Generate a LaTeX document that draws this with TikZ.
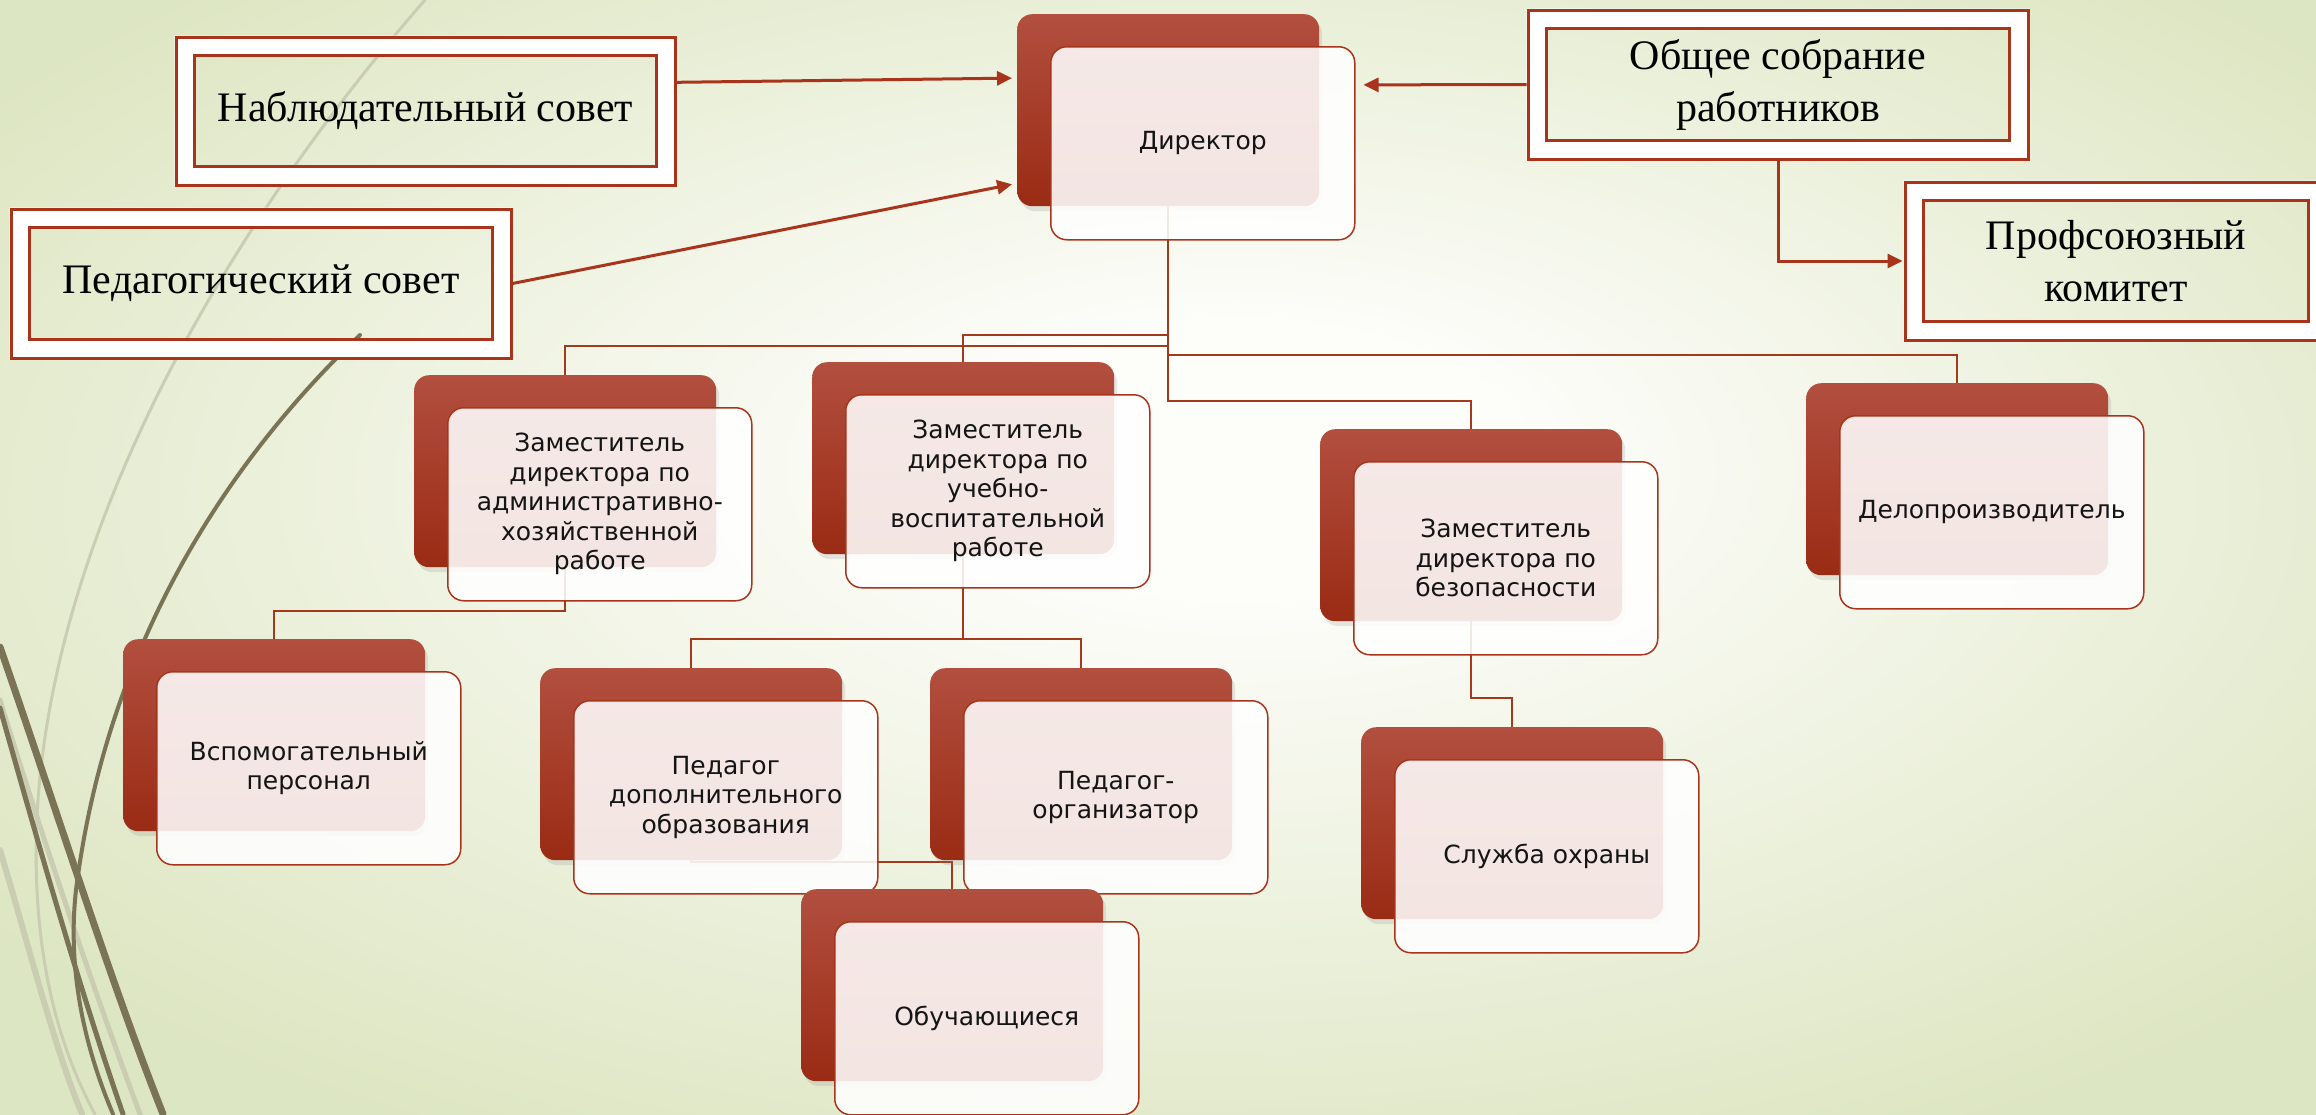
\documentclass[tikz,border=0pt]{standalone}
\usepackage{fontspec}
\setmainfont{Liberation Serif}
\newfontfamily\boxfont{DejaVu Sans}
\usetikzlibrary{arrows.meta,calc,shadows}
\definecolor{bgin}{HTML}{FDFDFA}
\definecolor{bgout}{HTML}{DDE6C2}
\definecolor{darktop}{HTML}{B24F3F}
\definecolor{darkmid}{HTML}{AD4433}
\definecolor{darkbot}{HTML}{9A2B14}
\definecolor{brd}{HTML}{A8351B}
\definecolor{conncol}{HTML}{A33A1E}
\definecolor{curvedark}{HTML}{7A7356}
\definecolor{curvelight}{HTML}{CACDB2}
\pgfdeclarelayer{bglayer}
\pgfdeclarelayer{connlayer}
\pgfsetlayers{bglayer,connlayer,main}
\pgfdeclareradialshading{bgshade}{\pgfpoint{2bp}{5bp}}{color(0bp)=(bgin); color(6bp)=(bgin); color(32bp)=(bgout); color(50bp)=(bgout)}
\tikzset{
  darkbox/.style={rectangle, rounded corners=15pt, minimum width=302pt, minimum height=192pt,
    inner sep=0pt, anchor=north west, top color=darktop, middle color=darkmid, bottom color=darkbot,
    draw=none, drop shadow={opacity=0.18, shadow xshift=3pt, shadow yshift=-5pt}},
  lightbox/.style={rectangle, rounded corners=16pt, minimum width=304pt, minimum height=193pt,
    inner sep=0pt, fill=white, fill opacity=0.88, draw=brd, line width=1.5pt},
  boxtext/.style={align=center, inner sep=0pt, text=black!92, font=\boxfont\fontsize{25}{29.5}\selectfont},
  outerframe/.style={rectangle, inner sep=0pt, draw=brd, line width=3pt},
  innerframe/.style={rectangle, inner sep=0pt, draw=brd, line width=3pt},
  sertext/.style={align=center, inner sep=0pt, text=black, font=\fontsize{42}{52}\selectfont},
  connector/.style={draw=conncol, line width=2pt},
  bigarrow/.style={draw=brd, line width=3pt, -{Triangle[length=15pt,width=14pt]}},
  curvedk/.style={draw=curvedark, line cap=round},
  curvelt/.style={draw=curvelight, line cap=round},
}
\newcommand{\orgunit}[4]{%
  \node[darkbox] (#1d) at (#2,#3) {};
  \node[lightbox, anchor=north west] (#1) at ($(#1d.north west)+(33,32)$) {};
  \node[boxtext] (#1t) at (#1.center) {#4};
}
\newcommand{\serbox}[6]{%
  \node[outerframe, minimum width=#4pt, minimum height=#5pt] (#1) at (#2,#3) {};
  \node[innerframe, minimum width=#4pt-37pt, minimum height=#5pt-37pt] (#1i) at (#2,#3) {};
  \node[sertext] (#1t) at (#2,#3) {#6};
  \begin{pgfonlayer}{bglayer}
    \fill[white, even odd rule] (#1.north west) rectangle (#1.south east) (#1i.north west) rectangle (#1i.south east);
  \end{pgfonlayer}
}
\begin{document}
\begin{tikzpicture}[x=1pt,y=-1pt]
\useasboundingbox (0,0) rectangle (2316,1114);
\begin{pgfonlayer}{bglayer}
  \shade[shading=bgshade] (0,0) rectangle (2316,1114);
  % decorative curves
  \draw[curvelt, line width=3pt] (425,0) .. controls (250,200) and (60,500) .. (38,800) .. controls (28,950) and (60,1050) .. (95,1114);
  \draw[curvelt, line width=6pt] (0,850) .. controls (30,950) and (55,1050) .. (82,1114);
  \draw[curvelt, line width=5pt] (0,700) .. controls (40,830) and (90,980) .. (140,1114);
  \draw[curvedk, line width=4pt] (360,335) .. controls (250,440) and (110,620) .. (76,890) .. controls (66,980) and (90,1060) .. (113,1114);
  \draw[curvedk, line width=7pt] (0,647) .. controls (60,820) and (110,980) .. (163,1114);
  \draw[curvedk, line width=5pt] (0,708) .. controls (40,850) and (80,990) .. (123,1114);
\end{pgfonlayer}

% framed serif boxes
\serbox{nab}{425.5}{111}{499}{148}{Наблюдательный совет}
\serbox{ped}{261}{283.5}{500}{149}{Педагогический совет}
\serbox{obsh}{1778}{84.5}{500}{149}{Общее собрание\\работников}
\serbox{prof}{2116}{261}{422}{158}{Профсоюзный\\комитет}

% org units
\orgunit{dir}{1017}{14}{Директор}
\orgunit{ahr}{414}{375}{Заместитель\\директора по\\административно-\\хозяйственной\\работе}
\orgunit{uvr}{812}{362}{Заместитель\\директора по\\учебно-\\воспитательной\\работе}
\orgunit{bez}{1320}{429}{Заместитель\\директора по\\безопасности}
\orgunit{delo}{1806}{383}{Делопроизводитель}
\orgunit{vsp}{123}{639}{Вспомогательный\\персонал}
\orgunit{pdo}{540}{668}{Педагог\\дополнительного\\образования}
\orgunit{porg}{930}{668}{Педагог-\\организатор}
\orgunit{ohr}{1361}{727}{Служба охраны}
\orgunit{ob}{801}{889}{Обучающиеся}

\coordinate (busU) at (0,335);
\coordinate (busA) at (0,346);
\coordinate (busD) at (0,355);
\coordinate (busB) at (0,401);
\coordinate (busV) at (0,611);
\coordinate (busP) at (0,639);
\coordinate (busS) at (0,698);
\coordinate (busO) at (0,862);

\begin{pgfonlayer}{connlayer}
  \draw[connector] (dird.south) -- (dird.south |- busA) -| (ahrd.north);
  \draw[connector] (dird.south) -- (dird.south |- busU) -| (uvrd.north);
  \draw[connector] (dird.south) -- (dird.south |- busD) -| (delod.north);
  \draw[connector] (dird.south) -- (dird.south |- busB) -| (bezd.north);
  \draw[connector] (ahrd.south) -- (ahrd.south |- busV) -| (vspd.north);
  \draw[connector] (uvrd.south) -- (uvrd.south |- busP) -| (pdod.north);
  \draw[connector] (uvrd.south) -- (uvrd.south |- busP) -| (porgd.north);
  \draw[connector] (pdod.south) -- (pdod.south |- busO) -| (obd.north);
  \draw[connector] (bezd.south) -- (bezd.south |- busS) -| (ohrd.north);
  % arrows into the director
  \draw[bigarrow, shorten >=5pt] ($(nab.north east)!0.31!(nab.south east)$) -- ($(dird.north west)!0.333!(dird.south west)$);
  \draw[bigarrow, shorten >=5pt] (ped.east) -- ($(dird.north west)!0.88!(dird.south west)$);
  \draw[bigarrow, shorten >=8pt] (obsh.west) -- ($(dir.north east)!0.2!(dir.south east)$);
  \draw[bigarrow, shorten >=1pt] (obsh.south) |- (prof.west);
\end{pgfonlayer}
\end{tikzpicture}
\end{document}
